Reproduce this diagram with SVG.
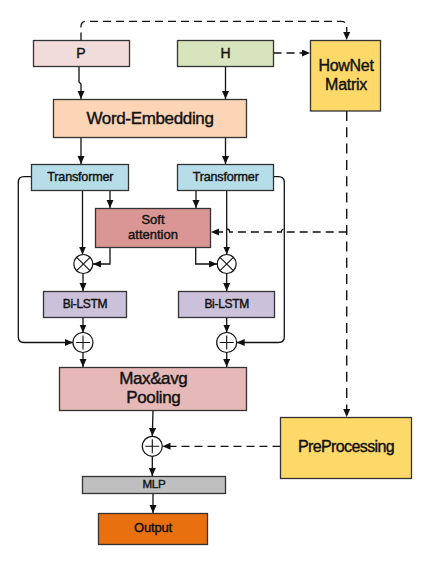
<svg xmlns="http://www.w3.org/2000/svg" width="429" height="567" viewBox="0 0 429 567">
<defs>
<style>
.box{stroke:#333;stroke-width:1.3}
.t{font-family:"Liberation Sans",Arial,sans-serif;fill:#111;text-anchor:middle;stroke:#111;stroke-width:0.4}
.c{fill:none;stroke:#111;stroke-width:1.3}
.d{fill:none;stroke:#111;stroke-width:1.3;stroke-dasharray:8,5}
.dv{fill:none;stroke:#111;stroke-width:1.4;stroke-dasharray:10,6.3}
.op{fill:#fff;stroke:#111;stroke-width:1.2}
.sym{stroke:#111;stroke-width:1.1;fill:none}
</style>
<marker id="ah" markerUnits="userSpaceOnUse" markerWidth="9" markerHeight="8" refX="8" refY="3.5" orient="auto">
<path d="M0,0 L8,3.5 L0,7 z" fill="#111"/>
</marker>
</defs>
<rect width="429" height="567" fill="#fff"/>

<g id="connectors">
<path class="c" d="M79,66.5 V82 L81,84 V99" marker-end="url(#ah)"/>
<path class="c" d="M225.5,66.5 V99" marker-end="url(#ah)"/>
<path class="c" d="M81,137.5 V164" marker-end="url(#ah)"/>
<path class="c" d="M225.5,137.5 V164" marker-end="url(#ah)"/>
<path class="c" d="M82.5,190.5 V254.5" marker-end="url(#ah)"/>
<path class="c" d="M110,190.5 V208" marker-end="url(#ah)"/>
<path class="c" d="M110,247.5 V264 H93" marker-end="url(#ah)"/>
<path class="c" d="M196,190.5 V208" marker-end="url(#ah)"/>
<path class="c" d="M226.7,190.5 V254.5" marker-end="url(#ah)"/>
<path class="c" d="M195.7,247.5 V264 H217" marker-end="url(#ah)"/>
<path class="c" d="M83,273.5 V291" marker-end="url(#ah)"/>
<path class="c" d="M226.7,273.5 V291" marker-end="url(#ah)"/>
<path class="c" d="M83,317.5 V332.5" marker-end="url(#ah)"/>
<path class="c" d="M226.7,317.5 V332.5" marker-end="url(#ah)"/>
<path class="c" d="M31.5,176.7 H24 Q18.3,176.7 18.3,182.5 V336.7 Q18.3,342.5 24,342.5 H73" marker-end="url(#ah)"/>
<path class="c" d="M273.5,176.7 H278.5 Q284.3,176.7 284.3,182.5 V336.7 Q284.3,342.5 278.5,342.5 H236.7" marker-end="url(#ah)"/>
<path class="c" d="M83,352.5 V367" marker-end="url(#ah)"/>
<path class="c" d="M226.7,352.5 V367" marker-end="url(#ah)"/>
<path class="c" d="M153,410.5 L152.3,436" marker-end="url(#ah)"/>
<path class="c" d="M152.3,456.3 V476" marker-end="url(#ah)"/>
<path class="c" d="M153,494 V513" marker-end="url(#ah)"/>
<path class="d" d="M81,40.5 V26.5 Q81,21.3 86.5,21.3 H341 Q346.7,21.3 346.7,27 V40" marker-end="url(#ah)"/>
<path class="d" d="M273.5,53 H310" marker-end="url(#ah)"/>
<path class="dv" d="M346.7,111 V417" marker-end="url(#ah)"/>
<path class="d" d="M346.7,232 H287.3 A3,3 0 0 0 281.3,232 H229.7 A3,3 0 0 0 223.7,232 H211" marker-end="url(#ah)"/>
<path class="d" d="M280.5,446.3 H162.5" marker-end="url(#ah)"/>
</g>

<g id="P"><rect class="box" x="33.5" y="40.5" width="96" height="26" fill="#f2dcdb"/><text class="t" x="81" y="57.5" font-size="14">P</text></g>
<g id="H"><rect class="box" x="177.5" y="40.5" width="96" height="26" fill="#d7e4bd"/><text class="t" x="225.5" y="57.5" font-size="14">H</text></g>
<g id="HowNet"><rect class="box" x="310.5" y="40.5" width="70" height="70.5" fill="#fdd969"/><text class="t" x="346" y="71" font-size="16" letter-spacing="-0.3">HowNet</text><text class="t" x="346" y="90" font-size="16" letter-spacing="-0.3">Matrix</text></g>
<g id="WordEmbedding"><rect class="box" x="53.5" y="99.5" width="193" height="38" fill="#fbd5b5"/><text class="t" x="150" y="123.5" font-size="17" letter-spacing="-0.35">Word-Embedding</text></g>
<g id="Transformer1"><rect class="box" x="31.5" y="164.5" width="97" height="26" fill="#b7dee8"/><text class="t" x="80.3" y="181" font-size="12.6" letter-spacing="-0.2">Transformer</text></g>
<g id="Transformer2"><rect class="box" x="177.5" y="164.5" width="96" height="26" fill="#b7dee8"/><text class="t" x="225.7" y="181" font-size="12.6" letter-spacing="-0.2">Transformer</text></g>
<g id="SoftAttention"><rect class="box" x="95.5" y="208.5" width="115" height="39" fill="#d99694"/><text class="t" x="153" y="224.3" font-size="13">Soft</text><text class="t" x="153" y="239" font-size="13">attention</text></g>
<g id="Times1"><circle class="op" cx="83.3" cy="264" r="9.5"/><path class="sym" d="M76.6,257.3 L90,270.7 M90,257.3 L76.6,270.7"/></g>
<g id="Times2"><circle class="op" cx="226.7" cy="264" r="9.5"/><path class="sym" d="M220,257.3 L233.4,270.7 M233.4,257.3 L220,270.7"/></g>
<g id="BiLSTM1"><rect class="box" x="43.5" y="291.5" width="83" height="26" fill="#ccc1da"/><text class="t" x="85" y="308" font-size="12" letter-spacing="-0.3">Bi-LSTM</text></g>
<g id="BiLSTM2"><rect class="box" x="178.5" y="291.5" width="96" height="26" fill="#ccc1da"/><text class="t" x="226.7" y="308" font-size="12" letter-spacing="-0.3">Bi-LSTM</text></g>
<g id="Plus1"><circle class="op" cx="83" cy="342.5" r="10"/><path class="sym" d="M76,342.5 H90 M83,335.5 V349.5"/></g>
<g id="Plus2"><circle class="op" cx="226.7" cy="342.5" r="10"/><path class="sym" d="M219.7,342.5 H233.7 M226.7,335.5 V349.5"/></g>
<g id="Pooling"><rect class="box" x="59.5" y="367.5" width="187" height="43" fill="#e6b9b8"/><text class="t" x="153.3" y="384" font-size="17" letter-spacing="-0.4">Max&amp;avg</text><text class="t" x="153.3" y="403.3" font-size="17" letter-spacing="-0.4">Pooling</text></g>
<g id="PreProcessing"><rect class="box" x="280.5" y="417.5" width="131" height="61" fill="#fdd969"/><text class="t" x="346" y="452.3" font-size="16" letter-spacing="-0.6">PreProcessing</text></g>
<g id="Plus3"><circle class="op" cx="152.3" cy="446.3" r="10"/><path class="sym" d="M145.3,446.3 H159.3 M152.3,439.3 V453.3"/></g>
<g id="MLP"><rect class="box" x="82.5" y="476.5" width="143" height="17" fill="#bfbfbf"/><text class="t" x="154" y="488" font-size="11.6" letter-spacing="-0.2">MLP</text></g>
<g id="Output"><rect class="box" x="98.5" y="513.5" width="109" height="31" fill="#e8700f"/><text class="t" x="153" y="532" font-size="13" letter-spacing="-0.2">Output</text></g>
</svg>
